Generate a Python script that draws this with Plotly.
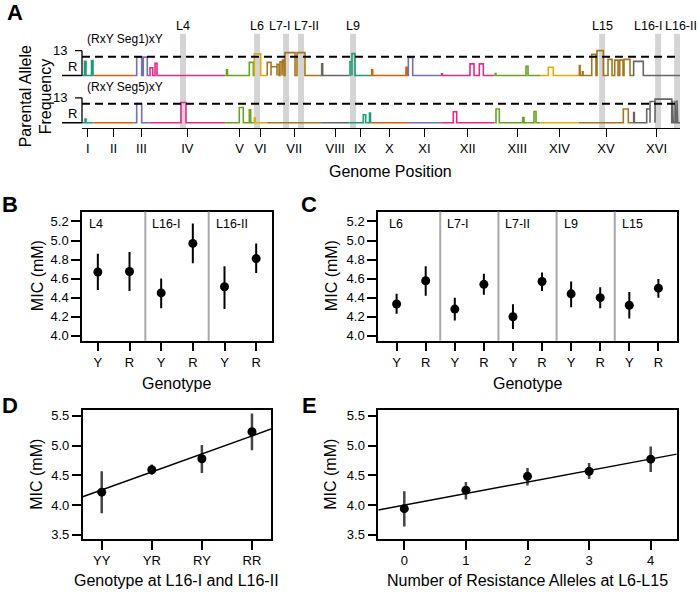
import plotly.graph_objects as go

# ---------------- DATA ----------------
chrom_names = ["I", "II", "III", "IV", "V", "VI", "VII", "VIII", "IX", "X",
               "XI", "XII", "XIII", "XIV", "XV", "XVI"]
chrom_len_kb = [230, 813, 317, 1532, 577, 270, 1091, 563, 440, 746,
                667, 1078, 924, 784, 1091, 948]
chrom_colors = ["#1B9E77", "#D95F02", "#7570B3", "#E7298A",
                "#66A61E", "#E6AB02", "#A6761D", "#666666"]

qtl_names = ["L4", "L6", "L7-I", "L7-II", "L9", "L15", "L16-I", "L16-II"]
qtl_pos_kb = [2039, 3533, 4119, 4422, 5471, 10499, 11629, 12013]
qtl_label_shift_px = [0, 0, -6, 5, 0, 0, -10, 4]

# peaks: (start_kb, end_kb, frequency) in genome coordinates
seg1_peaks = [
    (50, 81, 0.57), (192, 222, 0.60),
    (1104, 1205, 0.74), (1237, 1318, 0.74),
    (1373, 1427, 0.31), (1474, 1514, 0.49),
    (2917, 2937, 0.23), (3377, 3458, 0.53),
    (3478, 3607, 0.87),
    (3740, 3815, 0.53), (3815, 3936, 0.35), (3936, 3977, 0.45), (3997, 4037, 0.55),
    (4047, 4078, 0.62), (4098, 4300, 0.92), (4340, 4501, 0.92),
    (4838, 4858, 0.47),
    (5410, 5450, 0.55), (5450, 5510, 0.88),
    (5848, 5868, 0.23), (6540, 6570, 0.33),
    (6587, 6676, 0.73),
    (7260, 7275, 0.07), (7832, 7913, 0.47), (8020, 8101, 0.47),
    (8340, 8355, 0.08), (8963, 9003, 0.37),
    (9413, 9514, 0.33),
    (10040, 10055, 0.40), (10100, 10115, 0.15), (10289, 10375, 0.85), (10396, 10523, 1.0),
    (10618, 10699, 0.65), (10753, 10820, 0.62), (10854, 10921, 0.62), (10941, 11062, 0.65),
    (11135, 11330, 0.57),
]
seg5_peaks = [
    (61, 81, 0.15),
    (1104, 1205, 0.77),
    (1998, 2099, 0.81),
    (3175, 3256, 0.61), (3377, 3405, 0.52),
    (3478, 3495, 0.20),
    (5678, 5726, 0.32), (5803, 5823, 0.39),
    (7495, 7564, 0.44),
    (8357, 8424, 0.55), (8896, 8922, 0.21), (9124, 9164, 0.45),
    (10927, 11028, 0.55),
    (11135, 11150, 0.41), (11399, 11466, 0.55), (11466, 11567, 0.85), (11567, 11904, 0.95),
    (11920, 11935, 0.88), (11970, 11985, 0.88), (12010, 12025, 0.90),
]
track_labels = ["(RxY Seg1)xY", "(RxY Seg5)xY"]
threshold = 0.76

B_loci = ["L4", "L16-I", "L16-II"]
B_mean_Y = [4.67, 4.45, 4.515]
B_lo_Y = [4.48, 4.29, 4.28]
B_hi_Y = [4.86, 4.60, 4.73]
B_mean_R = [4.675, 4.97, 4.81]
B_lo_R = [4.47, 4.76, 4.66]
B_hi_R = [4.88, 5.18, 4.97]

C_loci = ["L6", "L7-I", "L7-II", "L9", "L15"]
C_mean_Y = [4.334, 4.28, 4.20, 4.44, 4.32]
C_lo_Y = [4.23, 4.16, 4.07, 4.30, 4.18]
C_hi_Y = [4.44, 4.40, 4.33, 4.57, 4.46]
C_mean_R = [4.577, 4.54, 4.57, 4.40, 4.50]
C_lo_R = [4.42, 4.43, 4.47, 4.29, 4.40]
C_hi_R = [4.73, 4.65, 4.665, 4.51, 4.595]

D_geno = ["YY", "YR", "RY", "RR"]
D_mean = [4.217, 4.594, 4.778, 5.233]
D_lo = [3.86, 4.51, 4.54, 4.92]
D_hi = [4.567, 4.68, 5.01, 5.54]
D_fit_intercept, D_fit_slope = 3.951, 0.303

E_n = [0, 1, 2, 3, 4]
E_mean = [3.939, 4.25, 4.483, 4.567, 4.772]
E_lo = [3.64, 4.094, 4.328, 4.439, 4.556]
E_hi = [4.233, 4.389, 4.622, 4.706, 4.983]
E_fit_intercept, E_fit_slope = 3.999, 0.194

# ---------------- LAYOUT HELPERS ----------------
W, H = 700, 595
FONT = "Liberation Sans, Arial, sans-serif"


def px(x):
    return x / W


def py(y):
    return 1 - y / H


fig = go.Figure()

# ---------------- PANEL A ----------------
chrom_start = []
acc = 0
for L in chrom_len_kb:
    chrom_start.append(acc)
    acc += L
genome_len = acc
chrom_center = [s + L / 2 for s, L in zip(chrom_start, chrom_len_kb)]

track_offsets = [1.9, 0.0]
for peaks, off in zip([seg1_peaks, seg5_peaks], track_offsets):
    for ci, (s, L) in enumerate(zip(chrom_start, chrom_len_kb)):
        e = s + L
        xs, ys = [s], [off]
        for (ps, pe, h) in peaks:
            if s <= ps < e:
                xs += [ps, ps, pe, pe]
                ys += [off, off + h, off + h, off]
        xs.append(e)
        ys.append(off)
        fig.add_trace(go.Scatter(x=xs, y=ys, mode="lines",
                                 line=dict(color=chrom_colors[ci % 8], width=1.6),
                                 xaxis="x", yaxis="y", showlegend=False,
                                 hoverinfo="skip"))
    # threshold dashed line
    fig.add_shape(type="line", xref="x", yref="y", x0=0, x1=genome_len,
                  y0=off + threshold, y1=off + threshold,
                  line=dict(color="black", width=2, dash="8px,5px"))
    # left mini-axis
    fig.add_shape(type="line", xref="paper", yref="y", x0=px(82), x1=px(82),
                  y0=off, y1=off + 1, line=dict(color="black", width=1.3))
    fig.add_shape(type="line", xref="paper", yref="y", x0=px(75), x1=px(82),
                  y0=off + 1, y1=off + 1, line=dict(color="black", width=1.3))
    fig.add_shape(type="line", xref="paper", yref="y", x0=px(62), x1=px(82),
                  y0=off, y1=off, line=dict(color="black", width=1.6))
    fig.add_annotation(xref="paper", yref="y", x=px(69), y=off + 1, text="13",
                       showarrow=False, xanchor="right", yanchor="middle",
                       font=dict(size=13, family=FONT, color="black"))
    fig.add_annotation(xref="paper", yref="y", x=px(72), y=off + 0.38, text="R",
                       showarrow=False, xanchor="center", yanchor="middle",
                       font=dict(size=13, family=FONT, color="black"))

for lab, off in zip(track_labels, track_offsets):
    fig.add_annotation(xref="paper", yref="y", x=px(85), y=off + 1.45, text=lab,
                       showarrow=False, xanchor="left", yanchor="middle",
                       font=dict(size=12, family=FONT, color="black"))

for name, pos, sh in zip(qtl_names, qtl_pos_kb, qtl_label_shift_px):
    fig.add_shape(type="rect", xref="x", yref="y domain", x0=pos - 60, x1=pos + 60,
                  y0=0, y1=1, fillcolor="#d4d4d4", line=dict(width=0), layer="below")
    fig.add_annotation(xref="x", yref="paper", x=pos, y=py(25), xshift=sh, text=name,
                       showarrow=False, xanchor="center", yanchor="middle",
                       font=dict(size=12.5, family=FONT, color="black"))

fig.update_layout(
    xaxis=dict(domain=[px(82), px(680)], range=[0, genome_len], anchor="y",
               tickvals=chrom_center, ticktext=chrom_names, ticks="outside",
               ticklen=8, tickwidth=1.3, tickcolor="black", showline=True,
               linecolor="black", linewidth=1.3, showgrid=False, zeroline=False,
               tickfont=dict(size=13, family=FONT, color="black")),
    yaxis=dict(domain=[py(128), py(33)], range=[-0.22, 3.58], anchor="x",
               visible=False, showgrid=False, zeroline=False),
)

# ---------------- PANELS B-E axes ----------------
common_x = dict(ticks="outside", ticklen=9, tickwidth=1.5, tickcolor="black",
                showline=True, mirror=True, linecolor="black", linewidth=1.5,
                showgrid=False, zeroline=False,
                tickfont=dict(size=13, family=FONT, color="black"))
common_y = dict(ticks="outside", ticklen=9, tickwidth=1.5, tickcolor="black",
                showline=True, mirror=True, linecolor="black", linewidth=1.5,
                showgrid=False, zeroline=False,
                tickfont=dict(size=13, family=FONT, color="black"))

mic_ticks = [4.0, 4.2, 4.4, 4.6, 4.8, 5.0, 5.2]
de_ticks = [3.5, 4.0, 4.5, 5.0, 5.5]

nB = len(B_loci)
nC = len(C_loci)
fig.update_layout(
    xaxis2=dict(domain=[px(82), px(272)], range=[0.5, 2 * nB + 0.5], anchor="y2",
                tickvals=list(range(1, 2 * nB + 1)), ticktext=["Y", "R"] * nB, **common_x),
    yaxis2=dict(domain=[py(342), py(212)], range=[3.948, 5.304], anchor="x2",
                tickvals=mic_ticks, ticktext=[f"{v:.1f}" for v in mic_ticks], **common_y),
    xaxis3=dict(domain=[px(378), px(677)], range=[0.36, 2 * nC + 0.64], anchor="y3",
                tickvals=list(range(1, 2 * nC + 1)), ticktext=["Y", "R"] * nC, **common_x),
    yaxis3=dict(domain=[py(342), py(212)], range=[3.948, 5.304], anchor="x3",
                tickvals=mic_ticks, ticktext=[f"{v:.1f}" for v in mic_ticks], **common_y),
    xaxis4=dict(domain=[px(82.7), px(271)], range=[0.62, 4.38], anchor="y4",
                tickvals=[1, 2, 3, 4], ticktext=D_geno, **common_x),
    yaxis4=dict(domain=[py(541.7), py(411.7)], range=[3.428, 5.6], anchor="x4",
                tickvals=de_ticks, ticktext=[f"{v:.1f}" for v in de_ticks], **common_y),
    xaxis5=dict(domain=[px(378.3), px(676.7)], range=[-0.422, 4.422], anchor="y5",
                tickvals=E_n, ticktext=[str(v) for v in E_n], **common_x),
    yaxis5=dict(domain=[py(541.7), py(411.7)], range=[3.428, 5.6], anchor="x5",
                tickvals=de_ticks, ticktext=[f"{v:.1f}" for v in de_ticks], **common_y),
)


def add_points(xs, mean, lo, hi, xa, ya, ecolor="black", ewidth=2.0):
    fig.add_trace(go.Scatter(
        x=xs, y=mean, mode="markers", xaxis=xa, yaxis=ya, showlegend=False,
        marker=dict(color="black", size=9),
        error_y=dict(type="data", array=[h - m for h, m in zip(hi, mean)],
                     arrayminus=[m - l for m, l in zip(mean, lo)],
                     width=0, thickness=ewidth, color=ecolor),
        hoverinfo="skip"))


# Panel B
add_points([2 * i + 1 for i in range(nB)], B_mean_Y, B_lo_Y, B_hi_Y, "x2", "y2")
add_points([2 * i + 2 for i in range(nB)], B_mean_R, B_lo_R, B_hi_R, "x2", "y2")
# Panel C
add_points([2 * i + 1 for i in range(nC)], C_mean_Y, C_lo_Y, C_hi_Y, "x3", "y3")
add_points([2 * i + 2 for i in range(nC)], C_mean_R, C_lo_R, C_hi_R, "x3", "y3")

for loci, xa, ya in [(B_loci, "x2", "y2"), (C_loci, "x3", "y3")]:
    for i, name in enumerate(loci):
        if i > 0:
            fig.add_shape(type="line", xref=xa, yref=ya + " domain", x0=2 * i + 0.5,
                          x1=2 * i + 0.5, y0=0, y1=1,
                          line=dict(color="#a8a8a8", width=2))
        fig.add_annotation(xref=xa, yref=ya + " domain", x=2 * i + 0.5, y=1,
                           xshift=5, yshift=-3, text=name, showarrow=False,
                           xanchor="left", yanchor="top",
                           font=dict(size=12.5, family=FONT, color="black"))

# Panel D
D_x = list(range(1, len(D_geno) + 1))
add_points(D_x, D_mean, D_lo, D_hi, "x4", "y4", ecolor="#444444", ewidth=2.5)
d_rng = [0.62, 4.38]
fig.add_trace(go.Scatter(x=d_rng, y=[D_fit_intercept + D_fit_slope * v for v in d_rng],
                         mode="lines", line=dict(color="black", width=1.5),
                         xaxis="x4", yaxis="y4", showlegend=False, hoverinfo="skip"))
# Panel E
add_points(E_n, E_mean, E_lo, E_hi, "x5", "y5", ecolor="#444444", ewidth=2.5)
e_rng = [-0.422, 4.422]
fig.add_trace(go.Scatter(x=e_rng, y=[E_fit_intercept + E_fit_slope * v for v in e_rng],
                         mode="lines", line=dict(color="black", width=1.5),
                         xaxis="x5", yaxis="y5", showlegend=False, hoverinfo="skip"))

# ---------------- TEXT ----------------
def txt(x, y, s, size=16, bold=False, angle=0, anchor="center"):
    fig.add_annotation(xref="paper", yref="paper", x=px(x), y=py(y),
                       text=f"<b>{s}</b>" if bold else s, showarrow=False,
                       xanchor=anchor, yanchor="middle", textangle=angle,
                       font=dict(size=size, family=FONT, color="black"))


txt(15, 12, "A", size=22, bold=True)
txt(10, 205, "B", size=22, bold=True)
txt(309, 205, "C", size=22, bold=True)
txt(10, 407, "D", size=22, bold=True)
txt(309, 407, "E", size=22, bold=True)

txt(25, 96, "Parental Allele", angle=-90)
txt(45, 96, "Frequency", angle=-90)
txt(390, 172, "Genome Position")
txt(37, 277, "MIC (mM)", angle=-90)
txt(331, 277, "MIC (mM)", angle=-90)
txt(177, 385, "Genotype")
txt(527, 385, "Genotype")
txt(37, 477, "MIC (mM)", angle=-90)
txt(331, 477, "MIC (mM)", angle=-90)
txt(177, 583, "Genotype at L16-I and L16-II")
txt(527, 583, "Number of Resistance Alleles at L6-L15")

fig.update_layout(width=W, height=H, margin=dict(l=0, r=0, t=0, b=0),
                  plot_bgcolor="white", paper_bgcolor="white",
                  font=dict(family=FONT, color="black"))

fig.write_html("out.html", config={"displayModeBar": False},
               post_script="document.body.style.margin='0px';")
